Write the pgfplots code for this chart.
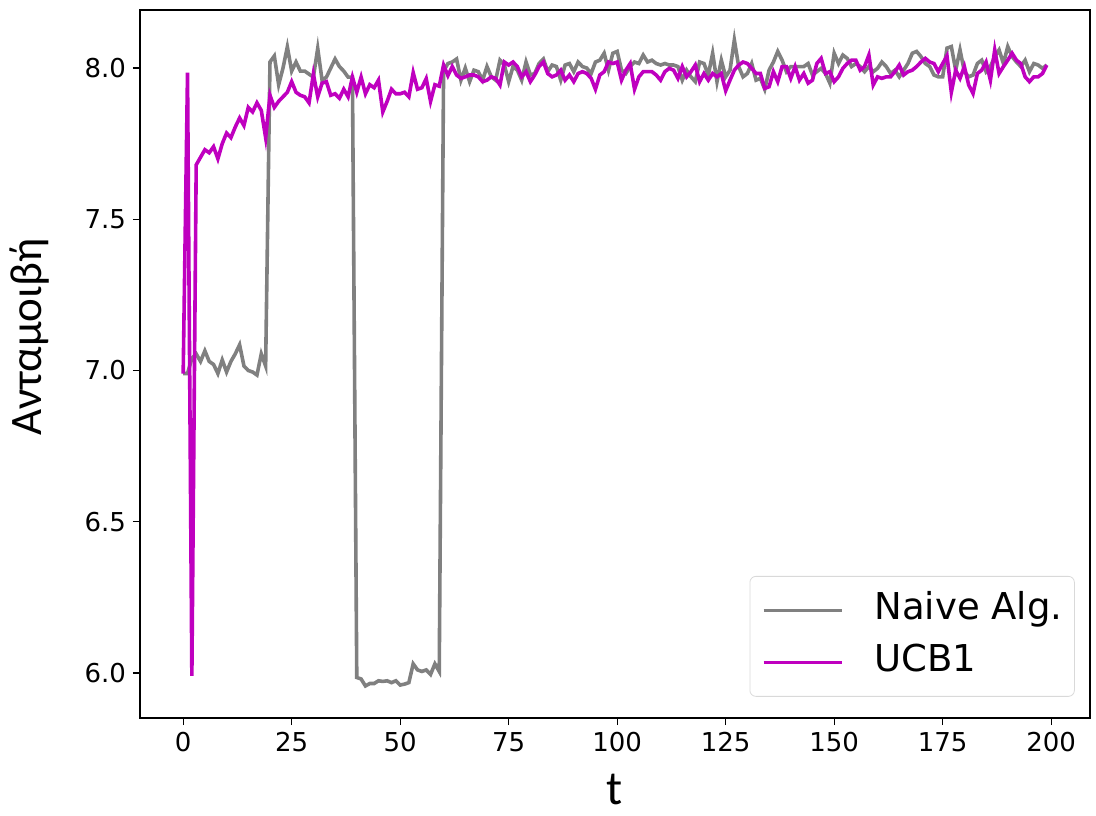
\documentclass[border=0pt]{standalone}
\usepackage{fontspec}
\setmainfont{DejaVu Sans}
\newfontfamily\labelfont{Carlito}
\usepackage{pgfplots}
\pgfplotsset{compat=1.18}
\usepackage{pgfplotstable}

\definecolor{naive}{HTML}{808080}
\definecolor{ucb}{HTML}{BF00BF}

% reward per round: naive algorithm vs UCB1
\pgfplotstableread{
t naive ucb
0 6.99 6.99
1 6.99 7.985
2 7.04 5.99
3 7.055 7.68
4 7.03 7.705
5 7.065 7.73
6 7.03 7.72
7 7.02 7.74
8 6.99 7.70
9 7.035 7.75
10 6.995 7.785
11 7.03 7.77
12 7.055 7.805
13 7.085 7.835
14 7.015 7.81
15 7.0 7.87
16 6.995 7.855
17 6.985 7.885
18 7.055 7.86
19 7.015 7.77
20 8.02 7.91
21 8.04 7.87
22 7.945 7.89
23 8.0 7.905
24 8.07 7.92
25 7.99 7.955
26 8.02 7.92
27 7.99 7.91
28 7.99 7.905
29 7.98 7.885
30 7.97 7.98
31 8.065 7.905
32 7.96 7.95
33 7.97 7.955
34 8.0 7.91
35 8.03 7.915
36 8.005 7.90
37 7.99 7.93
38 7.97 7.905
39 7.97 7.97
40 5.985 7.92
41 5.98 7.97
42 5.957 7.915
43 5.965 7.945
44 5.965 7.935
45 5.974 7.96
46 5.972 7.855
47 5.974 7.89
48 5.968 7.93
49 5.974 7.915
50 5.96 7.915
51 5.963 7.92
52 5.968 7.905
53 6.03 7.985
54 6.01 7.93
55 6.005 7.935
56 6.01 7.965
57 5.995 7.89
58 6.03 7.945
59 6.005 7.94
60 7.99 8.01
61 8.015 7.975
62 8.02 8.005
63 8.03 7.977
64 7.96 7.966
65 8.0 7.971
66 7.955 7.977
67 7.993 7.977
68 7.988 7.971
69 7.96 7.955
70 8.005 7.96
71 7.971 7.971
72 7.96 7.966
73 8.026 7.944
74 8.01 8.02
75 7.955 8.01
76 8.005 8.02
77 7.993 8.005
78 7.96 7.971
79 8.02 7.988
80 7.977 7.955
81 7.982 7.977
82 8.015 8.005
83 8.03 8.02
84 7.988 7.982
85 8.01 7.971
86 8.005 7.977
87 7.96 7.993
88 8.01 7.96
89 8.015 7.977
90 7.988 7.955
91 8.02 7.982
92 8.005 7.988
93 8.0 7.982
94 7.982 7.966
95 8.02 7.93
96 8.026 7.977
97 8.049 7.988
98 7.993 8.02
99 8.049 8.015
100 8.055 8.02
101 7.993 7.96
102 7.982 7.993
103 8.005 8.015
104 8.02 7.93
105 8.015 7.971
106 8.043 7.988
107 8.02 7.988
108 8.026 7.988
109 8.015 7.977
110 8.01 7.96
111 8.015 7.988
112 8.01 7.999
113 8.01 7.993
114 8.005 7.966
115 7.96 8.005
116 7.993 7.971
117 7.971 7.988
118 7.955 8.01
119 8.02 7.955
120 8.015 7.982
121 7.977 7.96
122 8.049 7.982
123 7.955 7.971
124 8.026 7.982
125 7.971 7.925
126 7.993 7.96
127 8.093 7.993
128 8.005 8.01
129 7.971 8.02
130 7.982 8.015
131 8.015 7.999
132 7.96 7.982
133 7.966 7.982
134 7.93 7.933
135 7.993 7.938
136 8.02 7.988
137 8.055 7.955
138 8.026 8.005
139 7.988 8.005
140 8.005 7.966
141 8.005 8.005
142 8.005 7.96
143 8.005 7.982
144 8.015 7.95
145 7.977 7.96
146 7.988 8.015
147 7.999 8.032
148 7.982 7.982
149 7.95 7.988
150 8.049 7.955
151 8.015 7.971
152 8.043 7.999
153 8.032 8.015
154 8.005 8.026
155 8.015 8.026
156 8.005 7.993
157 7.988 8.005
158 8.005 8.043
159 7.988 7.944
160 7.999 7.971
161 8.02 7.966
162 8.005 7.971
163 7.982 7.971
164 7.993 7.988
165 7.971 8.01
166 7.993 7.977
167 8.015 7.988
168 8.049 7.993
169 8.055 8.005
170 8.038 8.02
171 8.015 8.032
172 8.005 8.02
173 7.977 8.015
174 7.971 7.988
175 7.971 8.015
176 8.066 8.04
177 8.071 7.92
178 7.993 7.993
179 8.06 7.966
180 7.988 8.005
181 7.971 7.944
182 7.977 7.916
183 8.015 7.982
184 8.026 7.993
185 7.988 8.02
186 8.005 7.96
187 8.038 8.06
188 8.06 7.982
189 8.015 8.005
190 8.071 8.026
191 8.038 8.049
192 8.02 8.026
193 8.005 8.015
194 8.026 7.971
195 7.988 7.955
196 8.015 7.971
197 8.01 7.971
198 7.999 7.982
199 8.01 8.01
}\rewards

\begin{document}
\begin{tikzpicture}
\useasboundingbox (-70pt,-48.5pt) rectangle (478pt,359pt);
\begin{axis}[
at={(0,0)}, anchor=south west,
scale only axis,
width=475pt, height=354pt,
xmin=-9.95, xmax=208.95,
ymin=5.851, ymax=8.192,
xtick={0,25,...,200},
ytick={6,6.5,...,8},
xtick pos=bottom, ytick pos=left,
tick align=outside,
major tick length=3.5pt,
every tick/.style={black, line width=0.6pt},
axis line style={black, line width=0.6pt},
tick label style={font=\fontsize{13}{15}\selectfont},
/pgf/number format/assume math mode=true,
yticklabel style={/pgf/number format/.cd, fixed, fixed zerofill, precision=1},
xticklabel style={/pgf/number format/.cd, fixed, precision=0},
xlabel={t},
ylabel={Ανταμοιβή},
every axis x label/.style={at={([yshift=-35.5pt]axis description cs:0.5,0)}, anchor=center, inner sep=0pt, font=\labelfont\fontsize{24}{28}\selectfont},
every axis y label/.style={at={([xshift=-55pt,yshift=13.5pt]axis description cs:0,0.5)}, rotate=90, anchor=center, inner sep=0pt, font=\labelfont\fontsize{22.5}{27}\selectfont},
legend cell align=left,
legend style={
  at={(0.984,0.03)}, anchor=south east,
  draw=black!15, rounded corners=3pt, fill=white,
  font=\fontsize{18.5}{22}\selectfont,
  nodes={inner sep=0pt, text height=13pt, text depth=4pt},
  inner xsep=6pt, inner ysep=8.5pt,
  row sep=9pt,
},
legend image code/.code={\draw[#1, line width=1.8pt] (0pt,0pt) -- (39pt,0pt);},
]
\addplot[naive, line width=1.8pt] table[x=t, y=naive] {\rewards};
\addlegendentry{\hspace{15.5pt}Naive Alg.\hspace{2.5pt}}
\addplot[ucb, line width=1.8pt] table[x=t, y=ucb] {\rewards};
\addlegendentry{\hspace{15.5pt}UCB1}
\end{axis}
\end{tikzpicture}
\end{document}
